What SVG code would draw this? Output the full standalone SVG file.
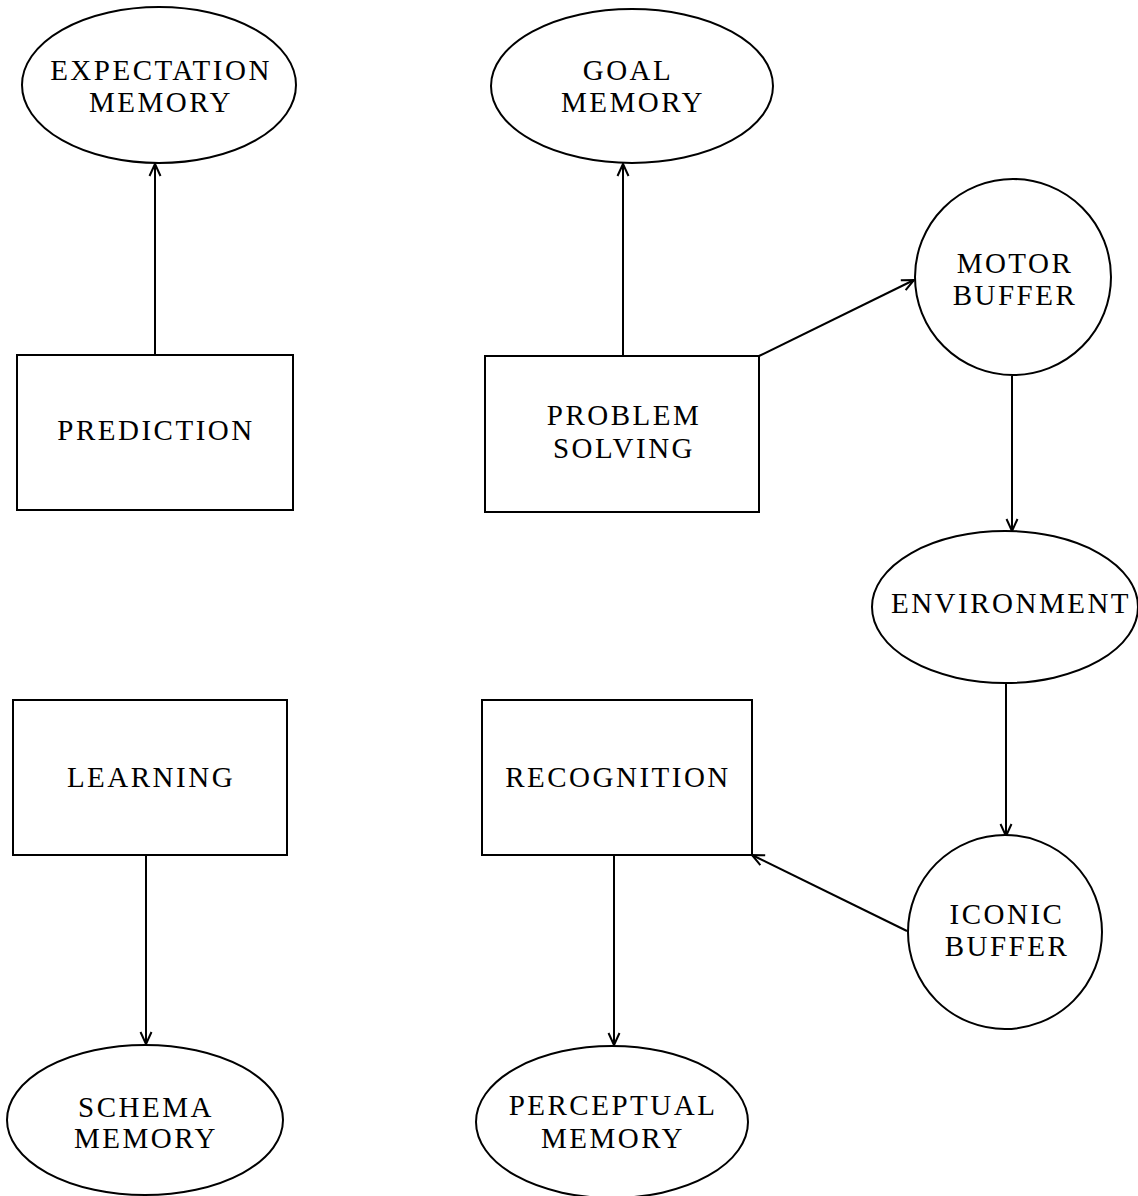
<svg xmlns="http://www.w3.org/2000/svg" width="1138" height="1196" viewBox="0 0 1138 1196">
<style>
.shape{fill:#fff;stroke:#000;stroke-width:2}
.lbl{font-family:"Liberation Serif","Times New Roman",serif;font-size:29px;letter-spacing:2.5px;text-anchor:middle;fill:#000}
.edge{stroke:#000;stroke-width:2;fill:none}
</style>
<defs>
<marker id="arr" markerUnits="userSpaceOnUse" markerWidth="16" markerHeight="16" refX="13" refY="7" orient="auto">
<path d="M1,1.5 L13,7 L1,12.5" fill="none" stroke="#000" stroke-width="2"/>
</marker>
</defs>
<rect width="1138" height="1196" fill="#fff"/>
<g id="connectors">
<line class="edge" x1="155" y1="355" x2="155" y2="164" marker-end="url(#arr)"/>
<line class="edge" x1="623" y1="356" x2="623" y2="164" marker-end="url(#arr)"/>
<line class="edge" x1="759" y1="356" x2="914" y2="280" marker-end="url(#arr)"/>
<line class="edge" x1="1012" y1="376" x2="1012" y2="531" marker-end="url(#arr)"/>
<line class="edge" x1="1006" y1="683" x2="1006" y2="836" marker-end="url(#arr)"/>
<line class="edge" x1="907" y1="931" x2="752" y2="855" marker-end="url(#arr)"/>
<line class="edge" x1="146" y1="855" x2="146" y2="1044" marker-end="url(#arr)"/>
<line class="edge" x1="614" y1="855" x2="614" y2="1045" marker-end="url(#arr)"/>
</g>
<g id="expectation-memory">
<ellipse class="shape" cx="159" cy="85" rx="137" ry="78"/>
<text class="lbl" x="161" y="80">EXPECTATION</text>
<text class="lbl" x="161" y="112">MEMORY</text>
</g>
<g id="goal-memory">
<ellipse class="shape" cx="632" cy="86" rx="141" ry="77"/>
<text class="lbl" x="628" y="80">GOAL</text>
<text class="lbl" x="633" y="112">MEMORY</text>
</g>
<g id="prediction">
<rect class="shape" x="17" y="355" width="276" height="155"/>
<text class="lbl" x="156" y="440">PREDICTION</text>
</g>
<g id="problem-solving">
<rect class="shape" x="485" y="356" width="274" height="156"/>
<text class="lbl" x="624" y="425">PROBLEM</text>
<text class="lbl" x="624" y="458">SOLVING</text>
</g>
<g id="motor-buffer">
<circle class="shape" cx="1013" cy="277" r="98"/>
<text class="lbl" x="1015" y="273">MOTOR</text>
<text class="lbl" x="1015" y="305">BUFFER</text>
</g>
<g id="environment">
<ellipse class="shape" cx="1005" cy="607" rx="133" ry="76"/>
<text class="lbl" x="1011" y="613">ENVIRONMENT</text>
</g>
<g id="iconic-buffer">
<circle class="shape" cx="1005" cy="932" r="97"/>
<text class="lbl" x="1007" y="924">ICONIC</text>
<text class="lbl" x="1007" y="956">BUFFER</text>
</g>
<g id="learning">
<rect class="shape" x="13" y="700" width="274" height="155"/>
<text class="lbl" x="151" y="787">LEARNING</text>
</g>
<g id="recognition">
<rect class="shape" x="482" y="700" width="270" height="155"/>
<text class="lbl" x="618" y="787">RECOGNITION</text>
</g>
<g id="schema-memory">
<ellipse class="shape" cx="145" cy="1120" rx="138" ry="75"/>
<text class="lbl" x="146" y="1117">SCHEMA</text>
<text class="lbl" x="146" y="1148">MEMORY</text>
</g>
<g id="perceptual-memory">
<ellipse class="shape" cx="612" cy="1122" rx="136" ry="76"/>
<text class="lbl" x="613" y="1115">PERCEPTUAL</text>
<text class="lbl" x="613" y="1148">MEMORY</text>
</g>
</svg>
